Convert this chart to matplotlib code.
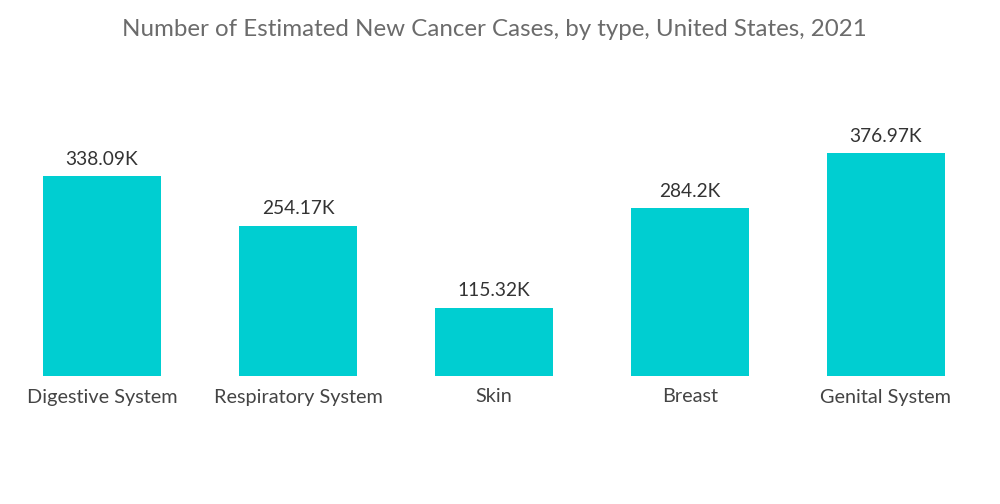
import matplotlib
matplotlib.use("Agg")
import matplotlib.pyplot as plt

categories = ["Digestive System", "Respiratory System", "Skin", "Breast", "Genital System"]
values = [338.09, 254.17, 115.32, 284.2, 376.97]
labels = ["338.09K", "254.17K", "115.32K", "284.2K", "376.97K"]
title = "Number of Estimated New Cancer Cases, by type, United States, 2021"

plt.rcParams['font.family'] = ['Lato', 'DejaVu Sans']

fig = plt.figure(figsize=(10, 5.04), dpi=100)
ax = fig.add_axes([0.004, 128/504, 0.980, 276/504])
x = range(len(categories))
bars = ax.bar(x, values, width=0.6, color="#00CED1")
ax.set_xlim(-0.5, len(categories) - 0.5)
ax.set_ylim(0, 466.5)
for xi, v, lab in zip(x, values, labels):
    ax.annotate(lab, (xi, v), xytext=(0, 6), textcoords="offset points",
                ha="center", va="bottom", fontsize=13.8, color="#333333")
ax.set_xticks(list(x))
ax.set_xticklabels(categories, fontsize=14.3, color="#444444")
ax.tick_params(axis="x", length=0, pad=9)
ax.set_yticks([])
for s in ax.spines.values():
    s.set_visible(False)
fig.text(0.494, 1 - 30/504, title, ha="center", va="center", fontsize=17.4, color="#6b6b6b")
fig.savefig("out.png", dpi=100)
